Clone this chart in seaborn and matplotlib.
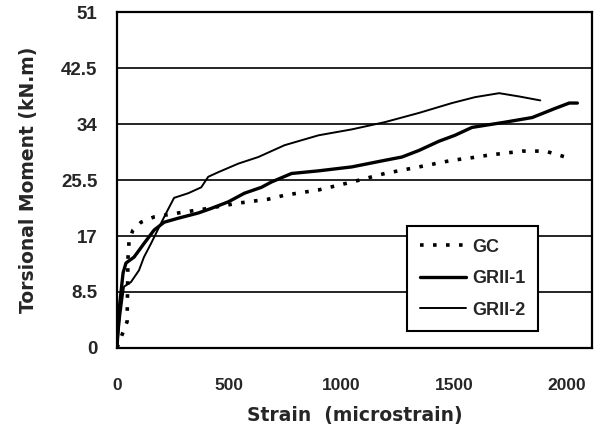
import numpy as np
import pandas as pd
import matplotlib
matplotlib.use('Agg')
import matplotlib.pyplot as plt
import seaborn as sns

# values
gc_strain = [0, 45, 49, 54, 71, 107, 165, 272, 388, 540, 674, 746, 897, 1045,
             1192, 1344, 1491, 1580, 1656, 1804, 1906, 1996]
gc_moment = [0, 4.0, 13.7, 16.4, 17.9, 19.1, 19.9, 20.5, 21.1, 22.0, 22.6, 23.2,
             24.0, 25.2, 26.5, 27.5, 28.5, 28.9, 29.3, 29.9, 29.9, 29.0]

gr1_strain = [0, 10, 27, 40, 76, 121, 165, 210, 272, 362, 420, 496, 567, 643,
              687, 777, 897, 1045, 1192, 1268, 1344, 1433, 1504, 1580, 1728,
              1848, 1951, 2013, 2049]
gr1_moment = [0, 6.0, 11.4, 12.9, 13.8, 15.9, 17.9, 19.1, 19.7, 20.5, 21.2, 22.2,
              23.5, 24.4, 25.2, 26.5, 26.9, 27.5, 28.5, 29.0, 30.0, 31.4, 32.3,
              33.5, 34.3, 35.0, 36.4, 37.2, 37.2]

gr2_strain = [0, 15, 31, 62, 98, 120, 152, 188, 219, 254, 317, 375, 406, 451,
              540, 629, 746, 897, 1045, 1192, 1344, 1491, 1594, 1701, 1790, 1884]
gr2_moment = [0, 5.0, 9.3, 10.0, 11.8, 13.8, 15.9, 18.4, 20.5, 22.8, 23.5, 24.4,
              26.0, 26.7, 28.0, 29.0, 30.8, 32.3, 33.2, 34.3, 35.7, 37.2, 38.1,
              38.7, 38.2, 37.6]

y_ticks = [0, 8.5, 17, 25.5, 34, 42.5, 51]
y_tick_labels = ['0', '8.5', '17', '25.5', '34', '42.5', '51']
x_ticks = [0, 500, 1000, 1500, 2000]

df_gc = pd.DataFrame({'strain': gc_strain, 'moment': gc_moment})
df_gr1 = pd.DataFrame({'strain': gr1_strain, 'moment': gr1_moment})
df_gr2 = pd.DataFrame({'strain': gr2_strain, 'moment': gr2_moment})

sns.set_style('white')
plt.rcParams['font.family'] = ['Liberation Sans', 'DejaVu Sans']

fig = plt.figure(figsize=(6, 4.36), dpi=100)
ax = fig.add_axes([0.195, 0.202, 0.792, 0.77])

ax.grid(axis='y', color='black', linewidth=1.2)
ax.set_axisbelow(True)

sns.lineplot(data=df_gc, x='strain', y='moment', sort=False, estimator=None,
             color='black', linewidth=2.6, linestyle=(0, (1, 2.6)), label='GC', ax=ax)
sns.lineplot(data=df_gr1, x='strain', y='moment', sort=False, estimator=None,
             color='black', linewidth=2.4, label='GRII-1', ax=ax)
sns.lineplot(data=df_gr2, x='strain', y='moment', sort=False, estimator=None,
             color='black', linewidth=1.4, label='GRII-2', ax=ax)

ax.set_xlim(0, 2115)
ax.set_ylim(0, 51)
ax.set_yticks(y_ticks)
ax.set_yticklabels(y_tick_labels)
ax.set_xticks(x_ticks)
ax.tick_params(axis='x', length=0, labelsize=12.5, pad=22)
ax.tick_params(axis='y', length=0, labelsize=13.5, pad=14)
for lab in ax.get_xticklabels() + ax.get_yticklabels():
    lab.set_fontweight('bold')

ax.set_xlabel('Strain  (microstrain)', fontsize=13.5, fontweight='bold',
              family='DejaVu Sans', labelpad=9)
ax.set_ylabel('Torsional Moment (kN.m)', fontsize=13.5, fontweight='bold',
              family='DejaVu Sans', labelpad=17)

for sp in ax.spines.values():
    sp.set_visible(True)
    sp.set_color('black')
    sp.set_linewidth(1.6)

leg = ax.legend(loc='lower left', bbox_to_anchor=(0.61, 0.05), fontsize=13,
                frameon=True, fancybox=False, edgecolor='black', framealpha=1,
                handlelength=2.6, labelspacing=0.8, borderpad=0.7,
                handletextpad=0.3, borderaxespad=0)
leg.get_frame().set_linewidth(1.5)
for t in leg.get_texts():
    t.set_fontweight('bold')

fig.savefig('out.png', dpi=100)
